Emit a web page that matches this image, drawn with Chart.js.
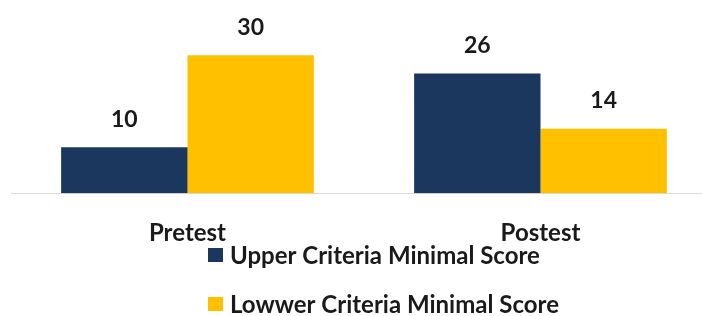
<!DOCTYPE html>
<html>
<head>
<meta charset="utf-8">
<script src="https://cdn.jsdelivr.net/npm/chart.js@4"></script>
<style>
  html, body { margin: 0; padding: 0; background: #fff; overflow: hidden; }
  #wrap { width: 717px; height: 316px; }
</style>
</head>
<body>
<div id="wrap"><canvas id="myChart" width="717" height="316"></canvas></div>
<script>
let labels = ['Pretest', 'Postest'];
let upper = [10, 26];
let lower = [30, 14];
let seriesNames = ['Upper Criteria Minimal Score', 'Lowwer Criteria Minimal Score'];
let colors = ['#1b375e', '#ffc000'];

let fontFam = 'Lato, "Open Sans", sans-serif';

// value labels above each bar
let valueLabels = {
    id: 'valueLabels',
    afterDatasetsDraw(chart) {
        let ctx = chart.ctx;
        ctx.save();
        ctx.font = 'bold 23px ' + fontFam;
        ctx.fillStyle = '#1a1a1a';
        ctx.textAlign = 'center';
        ctx.textBaseline = 'middle';
        chart.data.datasets.forEach((ds, i) => {
            chart.getDatasetMeta(i).data.forEach((bar, j) => {
                ctx.fillText(ds.data[j], bar.x, bar.y - 28);
            });
        });
        ctx.restore();
    }
};

// stacked legend under the axis labels
let stackedLegend = {
    id: 'stackedLegend',
    afterDraw(chart) {
        let ctx = chart.ctx;
        ctx.save();
        ctx.font = 'bold 24px ' + fontFam;
        ctx.textBaseline = 'middle';
        let ys = [255, 304];
        chart.data.datasets.forEach((ds, i) => {
            ctx.fillStyle = ds.backgroundColor;
            ctx.fillRect(208, ys[i] - 7, 15, 14);
            ctx.fillStyle = '#1a1a1a';
            ctx.fillText(ds.label, 230, ys[i] + 1);
        });
        ctx.restore();
    }
};

new Chart(document.getElementById('myChart').getContext('2d'), {
    type: 'bar',
    data: {
        labels: labels,
        datasets: [
            { label: seriesNames[0], data: upper, backgroundColor: colors[0] },
            { label: seriesNames[1], data: lower, backgroundColor: colors[1] }
        ]
    },
    options: {
        responsive: false,
        animation: false,
        layout: { padding: { left: 11, right: 0, top: 0, bottom: 42 } },
        datasets: { bar: { categoryPercentage: 0.716, barPercentage: 1.0 } },
        plugins: {
            legend: { display: false },
            tooltip: { enabled: false }
        },
        scales: {
            x: {
                grid: { display: false, drawTicks: false },
                border: { display: true, color: '#d9d9d9', width: 1 },
                ticks: {
                    padding: 26,
                    color: '#1a1a1a',
                    font: { family: fontFam, size: 24, weight: 'bold' }
                }
            },
            y: {
                display: false,
                min: 0,
                max: 42
            }
        }
    },
    plugins: [valueLabels, stackedLegend]
});
</script>
</body>
</html>
